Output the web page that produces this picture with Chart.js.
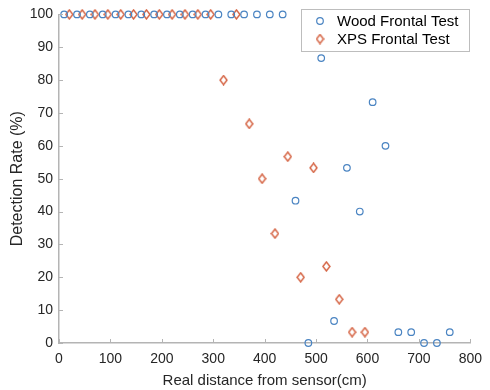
<!DOCTYPE html>
<html>
<head>
<meta charset="utf-8">
<script src="https://cdn.jsdelivr.net/npm/chart.js@4/dist/chart.umd.min.js"></script>
<style>
  html, body { margin: 0; padding: 0; background: #fff; }
  #wrap { width: 490px; height: 390px; }
</style>
</head>
<body>
<div id="wrap"><canvas id="chart" width="490" height="390"></canvas></div>
<script>
// data (distance in cm, detection rate in %)
const woodX = [10, 35, 60, 85, 110, 135, 160, 185, 210, 235, 260, 285, 310, 335, 360, 385, 410, 435,
  460, 485, 510, 535, 560, 585, 610, 635, 660, 685, 710, 735, 760];
const woodY = [100, 100, 100, 100, 100, 100, 100, 100, 100, 100, 100, 100, 100, 100, 100, 100, 100, 100,
  43.3, 0, 86.7, 6.7, 53.3, 40, 73.3, 60, 3.3, 3.3, 0, 0, 3.3];
const xpsX = [20, 45, 70, 95, 120, 145, 170, 195, 220, 245, 270, 295,
  320, 345, 370, 395, 420, 445, 470, 495, 520, 545, 570, 595];
const xpsY = [100, 100, 100, 100, 100, 100, 100, 100, 100, 100, 100, 100,
  80, 100, 66.7, 50, 33.3, 56.7, 20, 53.3, 23.3, 13.3, 3.3, 3.3];
const seriesNames = ["Wood Frontal Test", "XPS Frontal Test"];
const xTitle = "Real distance from sensor(cm)";
const yTitle = "Detection Rate (%)";

const blue = "#4a84c2";
const red = "#d4603f";
const font = "'Liberation Sans', Arial, Helvetica, sans-serif";
const axisGray = "#b4b4b4";
const textColor = "#262626";

const toPts = (xs, ys) => xs.map((x, i) => ({ x, y: ys[i] }));

// MATLAB style diamond: a bit taller than wide
function diamond(color) {
  const c = document.createElement("canvas");
  c.width = 9; c.height = 11;
  const g = c.getContext("2d");
  g.strokeStyle = color;
  g.lineWidth = 1.4;
  g.beginPath();
  g.moveTo(4.5, 1); g.lineTo(8, 5.5); g.lineTo(4.5, 10); g.lineTo(1, 5.5); g.closePath();
  g.stroke();
  return c;
}

// MATLAB-like inward tick marks
const inwardTicks = {
  id: "inwardTicks",
  afterDraw(chart) {
    const { ctx, chartArea, scales } = chart;
    ctx.save();
    ctx.strokeStyle = axisGray;
    ctx.lineWidth = 1;
    scales.x.ticks.forEach(t => {
      const px = Math.round(scales.x.getPixelForValue(t.value)) + 0.5;
      ctx.beginPath();
      ctx.moveTo(px, chartArea.bottom);
      ctx.lineTo(px, chartArea.bottom - 4);
      ctx.stroke();
    });
    scales.y.ticks.forEach(t => {
      const py = Math.round(scales.y.getPixelForValue(t.value)) + 0.5;
      ctx.beginPath();
      ctx.moveTo(chartArea.left, py);
      ctx.lineTo(chartArea.left + 4, py);
      ctx.stroke();
    });
    ctx.restore();
  }
};

// boxed legend in the top right of the axes
const boxLegend = {
  id: "boxLegend",
  afterDraw(chart) {
    const { ctx } = chart;
    const x0 = 301, y0 = 9, w = 168, h = 42;
    ctx.save();
    ctx.fillStyle = "#fff";
    ctx.fillRect(x0, y0, w, h);
    ctx.strokeStyle = "#bdbdbd";
    ctx.lineWidth = 1;
    ctx.strokeRect(x0 + 0.5, y0 + 0.5, w, h);
    chart.data.datasets.forEach((ds, i) => {
      const cy = y0 + 12 + i * 18;
      ctx.fillStyle = "rgba(0,0,0,0)";
      ctx.strokeStyle = ds.borderColor;
      ctx.lineWidth = ds.borderWidth;
      Chart.helpers.drawPoint(ctx, {
        pointStyle: ds.pointStyle,
        radius: ds.pointRadius,
        borderWidth: ds.borderWidth,
        rotation: 0
      }, x0 + 19, cy);
      ctx.fillStyle = "#000";
      ctx.font = "15px " + font;
      ctx.textBaseline = "middle";
      ctx.textAlign = "left";
      ctx.fillText(ds.label, x0 + 36, cy + 1);
    });
    ctx.restore();
  }
};

new Chart(document.getElementById("chart"), {
  type: "scatter",
  data: {
    datasets: [
      {
        label: seriesNames[0],
        data: toPts(woodX, woodY),
        pointStyle: "circle",
        pointRadius: 3.3,
        borderWidth: 1.2,
        borderColor: blue,
        backgroundColor: "rgba(0,0,0,0)",
        clip: false
      },
      {
        label: seriesNames[1],
        data: toPts(xpsX, xpsY),
        pointStyle: diamond(red),
        pointRadius: 4,
        borderWidth: 1.2,
        borderColor: red,
        backgroundColor: "rgba(0,0,0,0)",
        clip: false
      }
    ]
  },
  options: {
    responsive: false,
    animation: false,
    layout: { padding: { top: 13, right: 11, left: 0, bottom: 0 } },
    plugins: {
      legend: { display: false },
      tooltip: { enabled: false }
    },
    scales: {
      x: {
        type: "linear",
        min: 0,
        max: 800,
        afterFit(scale) { scale.height = 47; },
        ticks: { stepSize: 100, color: textColor, padding: 8, font: { family: font, size: 14 } },
        grid: { display: true, drawOnChartArea: false, drawTicks: false, color: axisGray },
        border: { color: axisGray, width: 1.5 },
        title: {
          display: true,
          text: xTitle,
          color: textColor,
          font: { family: font, size: 15 },
          padding: { top: 0, bottom: 0 }
        }
      },
      y: {
        type: "linear",
        min: 0,
        max: 100,
        afterFit(scale) { scale.width = 59; },
        ticks: { stepSize: 10, color: textColor, padding: 6, font: { family: font, size: 14 } },
        grid: { display: true, drawOnChartArea: false, drawTicks: false, color: axisGray },
        border: { color: axisGray, width: 1.5 },
        title: {
          display: true,
          text: yTitle,
          color: textColor,
          font: { family: font, size: 16 },
          padding: { top: 8, bottom: 2 }
        }
      }
    }
  },
  plugins: [inwardTicks, boxLegend]
});
</script>
</body>
</html>
